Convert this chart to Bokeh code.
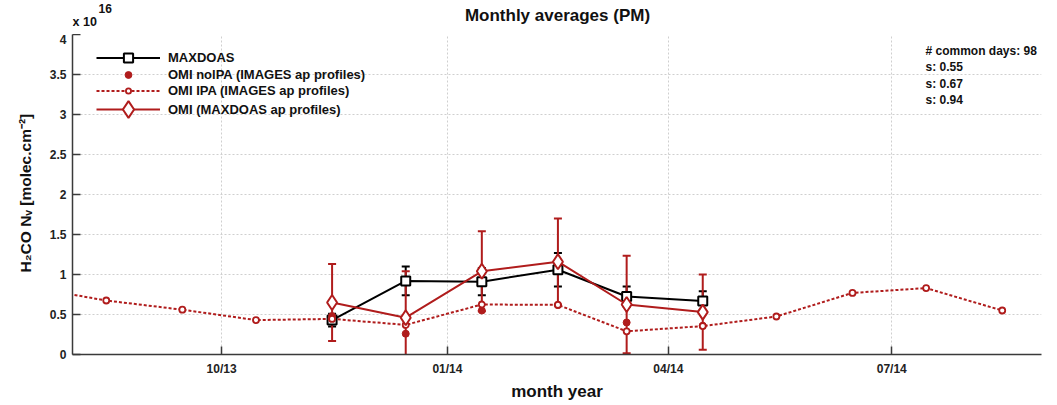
import pandas as pd
from bokeh.plotting import figure
from bokeh.layouts import column
from bokeh.models import (ColumnDataSource, Whisker, TeeHead, Legend, LegendItem,
                          Label, Title, FixedTicker, NumeralTickFormatter, Range1d)
from bokeh.embed import file_html
from bokeh.resources import INLINE

# ---------------- data (H2CO columns in units of 1e16 molec/cm2) ----------------
ipa_months = ["2013-07-15", "2013-08-15", "2013-09-15", "2013-10-15", "2013-11-15",
              "2013-12-15", "2014-01-15", "2014-02-15", "2014-03-15", "2014-04-15",
              "2014-05-15", "2014-06-15", "2014-07-15", "2014-08-15"]
ipa_values = [0.84, 0.675, 0.56, 0.43, 0.445, 0.37, 0.625, 0.62, 0.29, 0.355,
              0.475, 0.77, 0.83, 0.55]

common_months = ["2013-11-15", "2013-12-15", "2014-01-15", "2014-02-15",
                 "2014-03-15", "2014-04-15"]
maxdoas_values = [0.43, 0.92, 0.91, 1.06, 0.725, 0.67]
maxdoas_std = [0.08, 0.18, 0.17, 0.21, 0.125, 0.12]
omi_maxdoas_values = [0.65, 0.46, 1.04, 1.16, 0.625, 0.53]
omi_maxdoas_std = [0.48, 0.58, 0.50, 0.54, 0.61, 0.47]
nolpa_values = [0.48, 0.26, 0.55, 0.62, 0.40, 0.36]

x_tick_dates = ["2013-10-01", "2014-01-01", "2014-04-01", "2014-07-01"]
x_tick_labels = ["10/13", "01/14", "04/14", "07/14"]
y_ticks = [0, 0.5, 1, 1.5, 2, 2.5, 3, 3.5, 4]
stats_lines = ["# common days: 98", "s: 0.55", "s: 0.67", "s: 0.94"]
legend_labels = ["MAXDOAS", "OMI nolPA (IMAGES ap profiles)",
                 "OMI IPA (IMAGES ap profiles)", "OMI (MAXDOAS ap profiles)"]
title_text = "Monthly averages (PM)"
x_label = "month year"
y_label = "H\u2082CO N\u1d65 [molec.cm\u207b\u00b2]"
scale_text, scale_exp = "x 10", "16"
x_start, x_end = "2013-08-01 06:00", "2014-08-31"

# ---------------- styling ----------------
RED = "#B01C1C"
FONT = "Liberation Sans"
TXT = "#111111"
W, HEAD_H = 1049, 34
FRAME_W, FRAME_H = 969, 320

def ms(d):
    return pd.Timestamp(d).value / 1e6

ipa_src = ColumnDataSource(dict(x=pd.to_datetime(ipa_months), y=ipa_values))
com_x = pd.to_datetime(common_months)
max_src = ColumnDataSource(dict(
    x=com_x, y=maxdoas_values,
    lo=[v - e for v, e in zip(maxdoas_values, maxdoas_std)],
    hi=[v + e for v, e in zip(maxdoas_values, maxdoas_std)]))
omi_src = ColumnDataSource(dict(
    x=com_x, y=omi_maxdoas_values,
    lo=[v - e for v, e in zip(omi_maxdoas_values, omi_maxdoas_std)],
    hi=[v + e for v, e in zip(omi_maxdoas_values, omi_maxdoas_std)]))
nol_src = ColumnDataSource(dict(x=com_x, y=nolpa_values))

# ---------------- header strip (title and axis multiplier) ----------------
head = figure(width=W, height=HEAD_H, output_backend="svg", toolbar_location=None,
              x_range=Range1d(0, W), y_range=Range1d(0, HEAD_H),
              x_axis_type=None, y_axis_type=None, min_border=0,
              min_border_left=0, min_border_right=0, min_border_top=0,
              min_border_bottom=0)
head.outline_line_color = None
head.xgrid.visible = False
head.ygrid.visible = False

def hlabel(text, x, y, size, align="left"):
    head.add_layout(Label(x=x, y=y, x_units="screen", y_units="screen", text=text,
                          text_font=FONT, text_font_style="bold",
                          text_font_size=size, text_align=align,
                          text_baseline="middle", text_color=TXT))

hlabel(title_text, 485, HEAD_H - 15, "17px", align="center")
hlabel(scale_text, 0, HEAD_H - 21, "12.5px")
hlabel(scale_exp, 26, HEAD_H - 8, "12px")

# ---------------- main plot ----------------
p = figure(frame_width=FRAME_W, frame_height=FRAME_H, output_backend="svg",
           toolbar_location=None, x_axis_type="datetime",
           x_range=Range1d(ms(x_start), ms(x_end)), y_range=Range1d(0, 4),
           min_border_left=72, min_border_right=8, min_border_top=0,
           min_border_bottom=0)
p.outline_line_color = None
p.background_fill_color = "white"

for ax in (p.xaxis[0], p.yaxis[0]):
    ax.axis_line_color = "#3a3a3a"
    ax.axis_line_width = 1.5
    ax.major_tick_line_color = "#3a3a3a"
    ax.major_tick_line_width = 1.5
    ax.major_tick_in = 8
    ax.major_tick_out = 0
    ax.minor_tick_line_color = None
    ax.major_label_text_font = FONT
    ax.major_label_text_font_style = "bold"
    ax.major_label_text_font_size = "12px"
    ax.major_label_text_color = "#222222"
    ax.axis_label_text_font = FONT
    ax.axis_label_text_font_style = "bold"
    ax.axis_label_text_font_size = "17px"
    ax.axis_label_text_color = TXT

xt = [ms(d) for d in x_tick_dates]
p.xaxis[0].ticker = FixedTicker(ticks=xt)
p.xaxis[0].major_label_overrides = {t: l for t, l in zip(xt, x_tick_labels)}
p.xaxis[0].major_label_standoff = 7
p.xaxis[0].axis_label = x_label
p.xaxis[0].axis_label_standoff = 3
p.yaxis[0].ticker = FixedTicker(ticks=y_ticks)
p.yaxis[0].formatter = NumeralTickFormatter(format="0.[0]")
p.yaxis[0].major_label_standoff = 6

# vertical axis title, anchored at its start so it sits where the original does
p.add_layout(Title(text=y_label, align="left", offset=82, standoff=26,
                   text_font=FONT, text_font_style="bold", text_font_size="15.5px",
                   text_color=TXT), "left")

p.xgrid[0].ticker = FixedTicker(ticks=xt)
p.ygrid[0].ticker = FixedTicker(ticks=y_ticks)
for g in (p.xgrid[0], p.ygrid[0]):
    g.grid_line_color = "#cfcfcf"
    g.grid_line_dash = "2 2"
    g.grid_line_width = 1

# error bars
p.add_layout(Whisker(source=max_src, base="x", lower="lo", upper="hi",
                     line_color="black", line_width=2,
                     upper_head=TeeHead(size=8, line_color="black", line_width=2),
                     lower_head=TeeHead(size=8, line_color="black", line_width=2)))
p.add_layout(Whisker(source=omi_src, base="x", lower="lo", upper="hi",
                     line_color=RED, line_width=2,
                     upper_head=TeeHead(size=8, line_color=RED, line_width=2),
                     lower_head=TeeHead(size=8, line_color=RED, line_width=2)))

# series
r_max_l = p.line("x", "y", source=max_src, line_color="black", line_width=2)
r_max_m = p.scatter("x", "y", source=max_src, marker="square", size=9,
                    line_color="black", line_width=2, fill_color="white")
r_nol = p.scatter("x", "y", source=nol_src, marker="circle", size=7,
                  line_color=RED, fill_color=RED)
r_ipa_l = p.line("x", "y", source=ipa_src, line_color=RED, line_width=2,
                 line_dash="3 2")
r_ipa_m = p.scatter("x", "y", source=ipa_src, marker="circle", size=6,
                    line_color=RED, line_width=1.8, fill_color="white")
r_omi_l = p.line("x", "y", source=omi_src, line_color=RED, line_width=2)
r_omi_m = p.scatter("x", "y", source=omi_src, marker="diamond", size=15,
                    line_color=RED, line_width=2, fill_color="white")

# legend: one small legend per row so each sample marker gets its own size
legend_rows = [
    ([r_max_l, r_max_m], 23, 297),
    ([r_nol], 17, 280),
    ([r_ipa_l, r_ipa_m], 13, 263),
    ([r_omi_l, r_omi_m], 42, 245),
]
for (rends, gh, yc), lab in zip(legend_rows, legend_labels):
    lg = Legend(items=[LegendItem(label=lab, renderers=rends)],
                location=(24, yc - gh / 2), glyph_width=64, glyph_height=gh,
                label_height=gh, label_standoff=8, padding=0, margin=0, spacing=0,
                background_fill_alpha=0, border_line_alpha=0,
                label_text_font=FONT, label_text_font_style="bold",
                label_text_font_size="13px", label_text_color=TXT)
    p.add_layout(lg)

for i, s in enumerate(stats_lines):
    p.add_layout(Label(x=853, y=304 - i * 16.5, x_units="screen", y_units="screen",
                       text=s, text_font=FONT, text_font_style="bold",
                       text_font_size="12px", text_baseline="middle",
                       text_color=TXT))

layout = column(head, p, spacing=0)
open("out.html", "w").write(file_html(layout, INLINE))
